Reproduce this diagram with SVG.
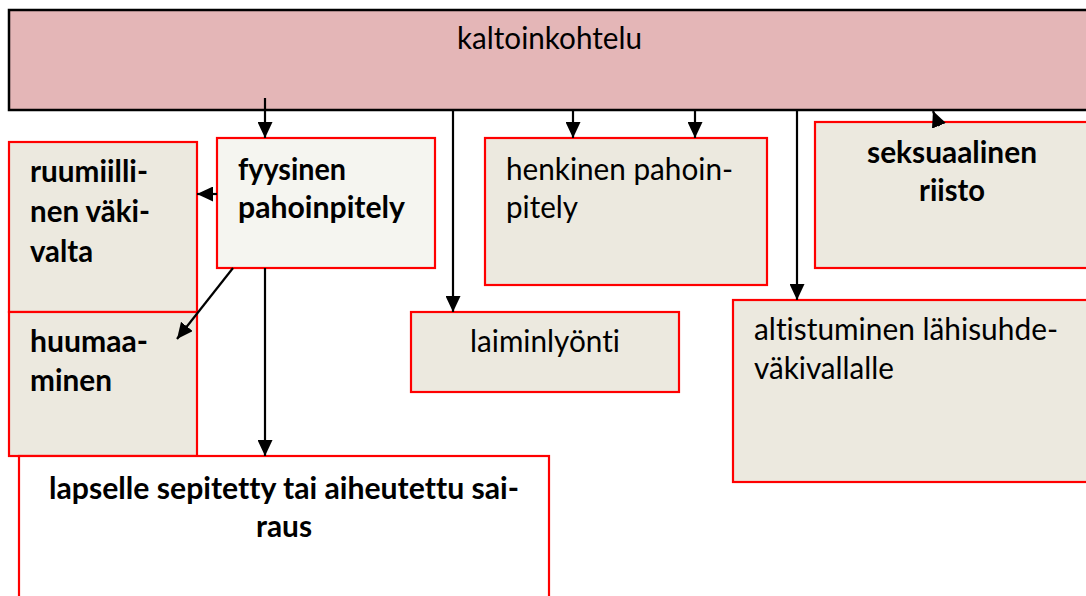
<svg xmlns="http://www.w3.org/2000/svg" width="1086" height="596" viewBox="0 0 1086 596">
<style>
.box{stroke:#FF0000;stroke-width:2.2}
.t{font-family:Lato,"Liberation Sans",sans-serif;font-size:30px;fill:#000;font-variant-ligatures:none}
.b{font-weight:bold}
.c{text-anchor:middle}
.con{stroke:#000;stroke-width:2.2;fill:none;marker-end:url(#ah)}
</style>
<defs>
<marker id="ah" markerUnits="userSpaceOnUse" markerWidth="16" markerHeight="15" refX="16" refY="7.5" orient="auto">
<path d="M0,0 L16,7.5 L0,15 z" fill="#000"/>
</marker>
</defs>
<rect width="1086" height="596" fill="#fff"/>
<g id="kaltoinkohtelu">
<rect x="9" y="10" width="1090" height="100" fill="#E4B6B7" stroke="#000" stroke-width="2.5"/>
<text class="t" x="457" y="49" textLength="185" lengthAdjust="spacingAndGlyphs">kaltoinkohtelu</text>
</g>
<g id="ruumiillinen">
<rect class="box" x="9" y="142" width="188" height="170" fill="#ECE9DF"/>
<text class="t b" x="30" y="182" textLength="118" lengthAdjust="spacingAndGlyphs">ruumiilli-</text>
<text class="t b" x="30" y="222" textLength="120" lengthAdjust="spacingAndGlyphs">nen väki-</text>
<text class="t b" x="30" y="262" textLength="63" lengthAdjust="spacingAndGlyphs">valta</text>
</g>
<g id="huumaaminen">
<rect class="box" x="9" y="312" width="188" height="144" fill="#ECE9DF"/>
<text class="t b" x="30" y="352" textLength="118" lengthAdjust="spacingAndGlyphs">huumaa-</text>
<text class="t b" x="30" y="391" textLength="82" lengthAdjust="spacingAndGlyphs">minen</text>
</g>
<g id="fyysinen">
<rect class="box" x="217" y="138" width="218" height="130" fill="#F5F5F0"/>
<text class="t b" x="238" y="180" textLength="108" lengthAdjust="spacingAndGlyphs">fyysinen</text>
<text class="t b" x="238" y="218" textLength="167" lengthAdjust="spacingAndGlyphs">pahoinpitely</text>
</g>
<g id="lapselle">
<rect class="box" x="19" y="456" width="530" height="160" fill="#FFFFFF"/>
<text class="t b c" x="284" y="499" textLength="470" lengthAdjust="spacingAndGlyphs">lapselle sepitetty tai aiheutettu sai-</text>
<text class="t b c" x="284" y="537" textLength="56" lengthAdjust="spacingAndGlyphs">raus</text>
</g>
<g id="henkinen">
<rect class="box" x="485" y="138" width="282" height="147" fill="#ECE9DF"/>
<text class="t" x="506" y="180" textLength="227" lengthAdjust="spacingAndGlyphs">henkinen pahoin-</text>
<text class="t" x="506" y="218" textLength="72" lengthAdjust="spacingAndGlyphs">pitely</text>
</g>
<g id="laiminlyonti">
<rect class="box" x="411" y="312" width="268" height="80" fill="#ECE9DF"/>
<text class="t c" x="545" y="352" textLength="150" lengthAdjust="spacingAndGlyphs">laiminlyönti</text>
</g>
<g id="seksuaalinen">
<rect class="box" x="815" y="122" width="290" height="146" fill="#ECE9DF"/>
<text class="t b c" x="952" y="163" textLength="170" lengthAdjust="spacingAndGlyphs">seksuaalinen</text>
<text class="t b c" x="952" y="201" textLength="66" lengthAdjust="spacingAndGlyphs">riisto</text>
</g>
<g id="altistuminen">
<rect class="box" x="733" y="300" width="370" height="182" fill="#ECE9DF"/>
<text class="t" x="754" y="340" textLength="304" lengthAdjust="spacingAndGlyphs">altistuminen lähisuhde-</text>
<text class="t" x="754" y="379" textLength="140" lengthAdjust="spacingAndGlyphs">väkivallalle</text>
</g>
<g id="connectors">
<path class="con" d="M265,98 L265,138"/>
<path class="con" d="M453,111 L453,312"/>
<path class="con" d="M573,111 L573,138"/>
<path class="con" d="M695,111 L695,138"/>
<path class="con" d="M797,111 L797,300"/>
<path class="con" d="M939,126 L933,111"/>
<path class="con" d="M217,194 L197,194"/>
<path class="con" d="M233,268 L177,339"/>
<path class="con" d="M265,268 L265,456"/>
</g>
</svg>
